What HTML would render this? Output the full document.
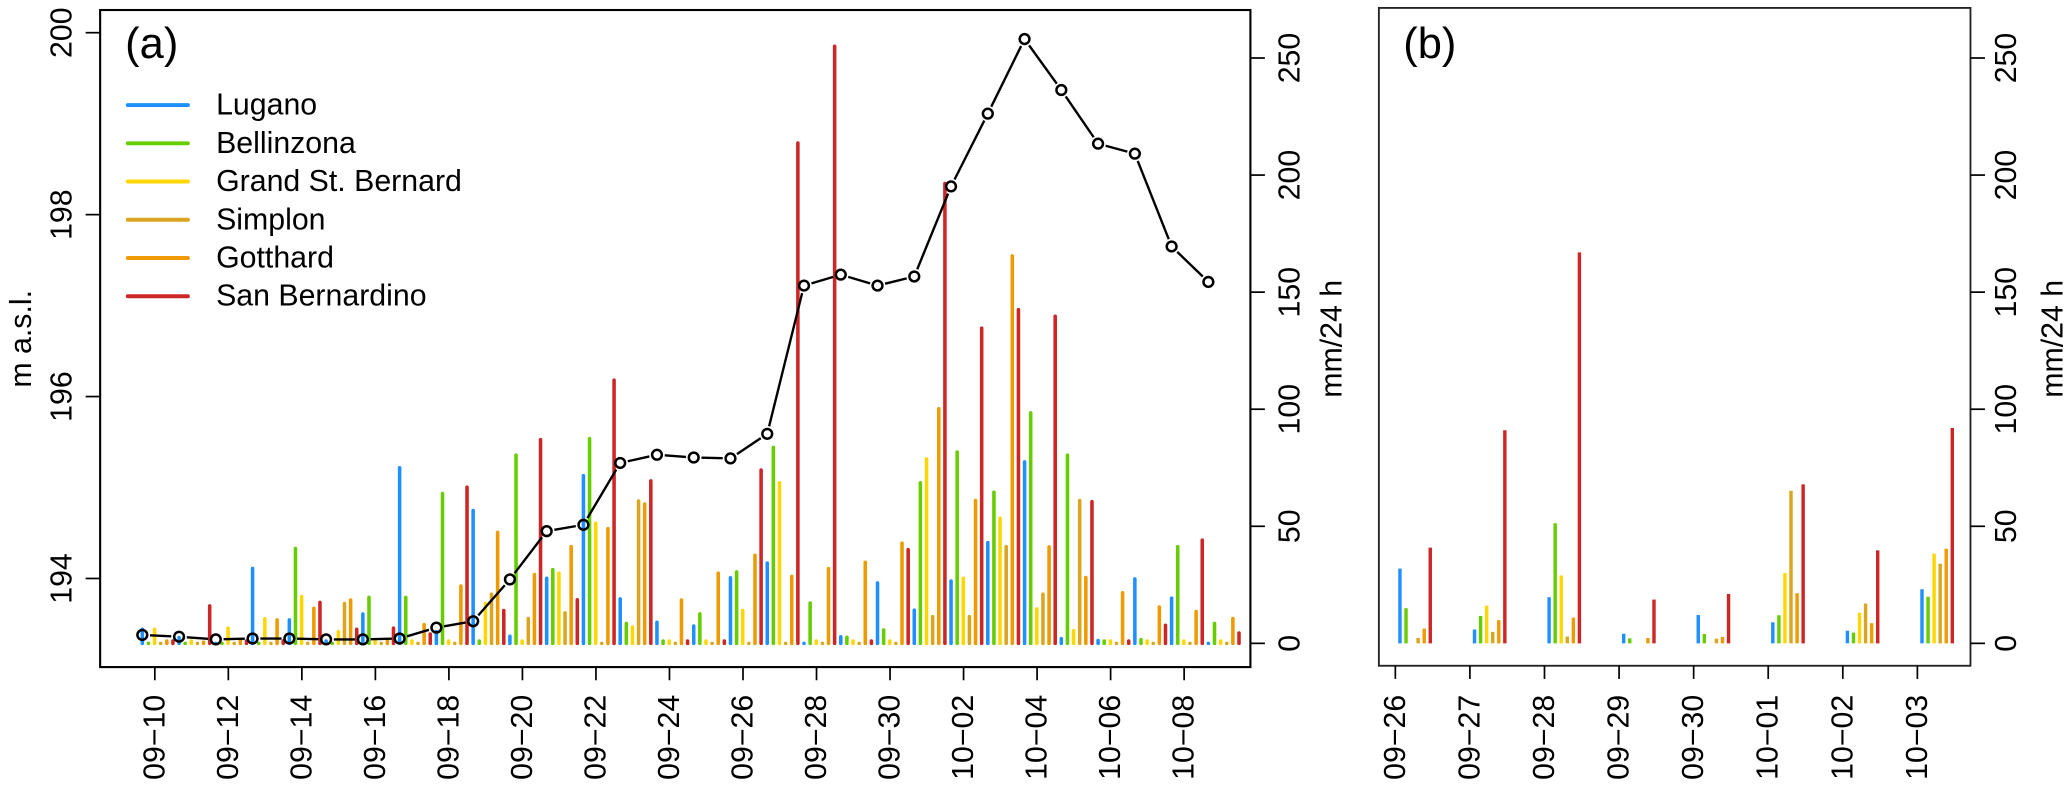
<!DOCTYPE html>
<html><head><meta charset="utf-8"><title>Lake level and precipitation</title>
<style>html,body{margin:0;padding:0;background:#fff;overflow:hidden;}svg{display:block;}text{font-family:"Liberation Sans",Arial,sans-serif;fill:#000;}</style>
</head><body>
<svg id="chart" xmlns="http://www.w3.org/2000/svg" width="2066" height="791" viewBox="0 0 1568 600" preserveAspectRatio="none"></svg>
<script>
// ---- data ----
const seriesNames = ["Lugano","Bellinzona","Grand St. Bernard","Simplon","Gotthard","San Bernardino"];
const seriesColors = ["#1E90FF","#66CD00","#FFD700","#DAA520","#EE9A00","#CD2626"];
const daysA = ["09-10","09-11","09-12","09-13","09-14","09-15","09-16","09-17","09-18","09-19","09-20","09-21","09-22","09-23","09-24","09-25","09-26","09-27","09-28","09-29","09-30","10-01","10-02","10-03","10-04","10-05","10-06","10-07","10-08","10-09"];
const tickLabelsA = ["09-10","09-12","09-14","09-16","09-18","09-20","09-22","09-24","09-26","09-28","09-30","10-02","10-04","10-06","10-08"];
const lakeLevel = [193.38,193.36,193.33,193.34,193.34,193.33,193.33,193.34,193.46,193.53,193.99,194.52,194.59,195.27,195.36,195.33,195.32,195.59,197.22,197.34,197.22,197.32,198.31,199.11,199.93,199.37,198.78,198.67,197.65,197.26];
const lugano      = [6,2.5,0,32,10,1,12.5,75,5,56.7,3,27.8,71.6,19,9,7.4,28,34.3,0,2.8,25.8,14.2,26.6,43,77.5,2,1.2,27.5,19.3,0];
const bellinzona  = [0,0,0,0,40.5,0,19.6,19.6,64,1,80.4,31.5,87.4,8.5,1,12.6,30.5,83.7,17.2,2.6,5.7,68.6,81.7,64.5,98.4,80.4,1,1.6,41.3,8.5];
const grandStB    = [6,1,6.5,10.5,20,5,1,1,1,17,1,30,51.3,6.9,1,1,14,68.6,1,1,1,78.8,27.8,53.4,14.7,5.4,1,1,1,1];
const simplon     = [0,0,0,0,0,17,0,0,0,21,10.6,13,0,60.8,0,0,0,0,0,0,0,11.4,11.4,41.3,21,61,0,0,0,0];
const gotthard    = [1,0.5,1,10,15,18.5,1,8,24.5,47.4,29.4,41.3,49,59.5,18.5,30,37.6,28.6,31.9,34.6,42.8,100.2,61,165.5,41.2,28.1,21.6,15.5,13.6,10.6];
const sanBern     = [1,16,1,1,17.5,6,6.5,4,66.7,14,87,18.6,112.4,69.4,1,1,74,213.7,255,1,40,196.4,134.6,142.5,139.7,60.5,1,7.7,44.1,4.4];
const daysB = ["09-26","09-27","09-28","09-29","09-30","10-01","10-02","10-03"];
const luganoB     = [31.9,5.9,19.7,4.1,12.1,9,5.4,23.1];
const bellinzonaB = [15,11.7,51.3,2.1,4,12,4.6,19.9];
const grandStBB   = [0,16.1,29,0,0,30,13.1,38.3];
const simplonB    = [2.3,4.9,2.9,0,2,65.1,17,34];
const gotthardB   = [6.3,9.9,11,2.3,2.7,21.4,8.6,40.4];
const sanBernB    = [40.9,91,167,18.7,21.1,67.9,39.7,92];
const levelTicks = [194,196,198,200];
const precipTicks = [0,50,100,150,200,250];

// ---- layout / scales ----
const NS="http://www.w3.org/2000/svg";
const svg=document.getElementById('chart');
const A={l:76,r:949,t:7.6,b:506};
const B={l:1046.5,r:1495.5,t:6,b:505};
function yLevel(v){return 24.8+(200-v)*69;}
function yPrecip(v){return 488-v*1.776;}
function xDayA(i){return 108+27.9*i;}
function xDayB(i){return 1059+56.6*i;}
const slotA=27.9/6, slotB=4.6;
function mk(tag,attrs,parent){const e=document.createElementNS(NS,tag);for(const k in attrs)e.setAttribute(k,attrs[k]);(parent||svg).appendChild(e);return e;}
function grp(name){const g=mk('g',{});return g;}
function txt(parent,x,y,s,size,opts){const t=mk('text',Object.assign({x:x,y:y,'font-size':size},opts||{}),parent);t.textContent=s;return t;}

// boxes
const boxA=mk('rect',{x:A.l,y:A.t,width:A.r-A.l,height:A.b-A.t,fill:'none',stroke:'#000','stroke-width':1.6});


const boxB=mk('rect',{x:B.l,y:B.t,width:B.r-B.l,height:B.b-B.t,fill:'none',stroke:'#222','stroke-width':1.4});



const seriesA=[lugano,bellinzona,grandStB,simplon,gotthard,sanBern];
const seriesB=[luganoB,bellinzonaB,grandStBB,simplonB,gotthardB,sanBernB];

// bars panel a
const barsA=grp('panel-a-bars');
seriesA.forEach((arr,k)=>{arr.forEach((v,i)=>{
  const x=xDayA(i)+k*slotA;
  const ln=mk('line',{x1:x,x2:x,y1:yPrecip(0),y2:yPrecip(v),stroke:seriesColors[k],'stroke-width':2.7,'stroke-linecap':'round'},barsA);
  
  
});});

// lake level line (type b)
const lineG=grp('lake-level-series');
const r=3.7,gap=2.2;
for(let i=0;i<lakeLevel.length-1;i++){
  const x1=xDayA(i),y1=yLevel(lakeLevel[i]),x2=xDayA(i+1),y2=yLevel(lakeLevel[i+1]);
  const dx=x2-x1,dy=y2-y1,L=Math.hypot(dx,dy),c=r+gap;
  if(L>2*c){const s=mk('line',{x1:x1+dx*c/L,y1:y1+dy*c/L,x2:x2-dx*c/L,y2:y2-dy*c/L,stroke:'#000','stroke-width':1.8},lineG);
    
    }
}
lakeLevel.forEach((v,i)=>{const c=mk('circle',{cx:xDayA(i),cy:yLevel(v),r:r,fill:'none',stroke:'#000','stroke-width':1.9},lineG);
  
  });

// axes panel a
const axL=grp('left-y-axis');
levelTicks.forEach(v=>{const y=yLevel(v);mk('line',{x1:A.l-11,x2:A.l,y1:y,y2:y,stroke:'#000','stroke-width':1.3},axL);
  txt(axL,47,y,String(v),23,{'text-anchor':'middle','dominant-baseline':'central',transform:'rotate(-90 47 '+y+')'});});
const yt=txt(svg,16.5,257,'m a.s.l.',23,{'text-anchor':'middle','dominant-baseline':'central',transform:'rotate(-90 16.5 257)'});



function rightAxis(P,lx,tx,name){
  const g=grp(name);
  precipTicks.forEach(v=>{const y=yPrecip(v);mk('line',{x1:P.r,x2:P.r+11,y1:y,y2:y,stroke:'#000','stroke-width':1.3},g);
    txt(g,lx,y,String(v),23,{'text-anchor':'middle','dominant-baseline':'central',transform:'rotate(-90 '+lx+' '+y+')'});});
  const t=txt(svg,tx,257,'mm/24 h',23,{'text-anchor':'middle','dominant-baseline':'central',transform:'rotate(-90 '+tx+' 257)'});
  
  
}
rightAxis(A,979,1011,'panel-a-right-y-axis');
rightAxis(B,1523,1558,'panel-b-right-y-axis');

// x axis a
const axA=grp('panel-a-x-axis');
tickLabelsA.forEach((s,j)=>{const x=xDayA(2*j)+9.5;
  mk('line',{x1:x,x2:x,y1:A.b,y2:A.b+10,stroke:'#000','stroke-width':1.3},axA);
  txt(axA,x,527,s.replace('-','\u2212'),23,{'text-anchor':'end','dominant-baseline':'central',transform:'rotate(-90 '+x+' 527)'});});

// panel b bars
const barsB=grp('panel-b-bars');
seriesB.forEach((arr,k)=>{arr.forEach((v,i)=>{
  if(v<=0)return;
  const x=xDayB(i)+3.5+k*slotB;
  const ln=mk('line',{x1:x,x2:x,y1:yPrecip(0),y2:yPrecip(v),stroke:seriesColors[k],'stroke-width':2.6,'stroke-linecap':'butt'},barsB);
  
  
});});
const axB=grp('panel-b-x-axis');
daysB.forEach((s,i)=>{const x=xDayB(i);
  mk('line',{x1:x,x2:x,y1:B.b,y2:B.b+10,stroke:'#000','stroke-width':1.3},axB);
  txt(axB,x,527,s.replace('-','\u2212'),23,{'text-anchor':'end','dominant-baseline':'central',transform:'rotate(-90 '+x+' 527)'});});

// panel labels
const la=txt(svg,95,44,'(a)',33);


const lb=txt(svg,1065,44,'(b)',33);



// legend
const leg=grp('legend');
seriesNames.forEach((n,k)=>{const y=79.7+29*k;
  const e=mk('g',{},leg);
  
  
  mk('line',{x1:97,x2:142.6,y1:y,y2:y,stroke:seriesColors[k],'stroke-width':3,'stroke-linecap':'round'},e);
  txt(e,164,y,n,23,{'dominant-baseline':'central'});});
</script>
</body></html>
